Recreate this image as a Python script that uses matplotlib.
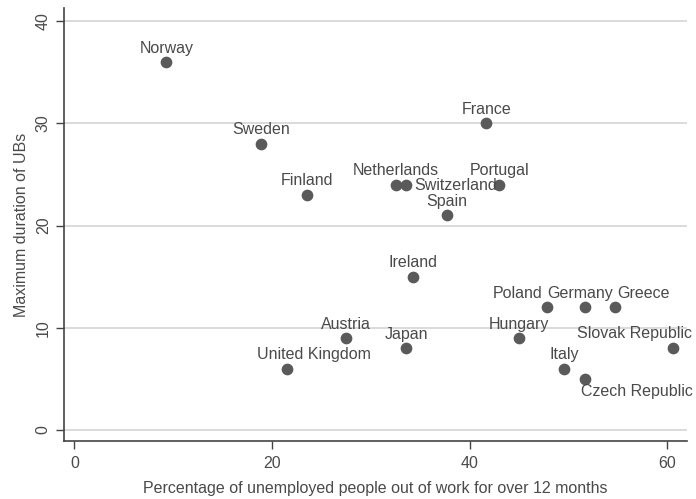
import matplotlib
matplotlib.use("Agg")
import matplotlib.pyplot as plt

countries = ["Norway", "Sweden", "Finland", "France", "Netherlands", "Switzerland",
             "Portugal", "Spain", "Ireland", "Poland", "Germany", "Greece",
             "Austria", "Japan", "Hungary", "United Kingdom", "Italy",
             "Slovak Republic", "Czech Republic"]
long_term_pct = [9.3, 18.9, 23.5, 41.7, 32.5, 33.6, 43.0, 37.7, 34.3, 47.8, 51.7, 54.7,
                 27.5, 33.6, 45.0, 21.5, 49.6, 60.6, 51.7]
max_duration = [36, 28, 23, 30, 24, 24, 24, 21, 15, 12, 12, 12, 9, 8, 9, 6, 6, 8, 5]

x_ticks = [0, 20, 40, 60]
y_ticks = [0, 10, 20, 30, 40]
x_title = "Percentage of unemployed people out of work for over 12 months"
y_title = "Maximum duration of UBs"

# label offsets in pixels (dx, dy) and horizontal alignment
label_style = {
    "Switzerland": (8, -1, "left"),
    "Poland": (-29, 14, "center"),
    "Germany": (-5, 14, "center"),
    "Greece": (29, 14, "center"),
    "United Kingdom": (27, 14, "center"),
    "Slovak Republic": (-39, 15, "center"),
    "Czech Republic": (52, -13, "center"),
}

plt.rcParams["font.family"] = ["Liberation Sans", "DejaVu Sans"]
text_c = "#4a4a4a"
fs = 11.5

fig = plt.figure(figsize=(6.96, 4.99), dpi=100)
ax = fig.add_axes([64 / 696, 1 - 441 / 499, (687 - 64) / 696, (441 - 8) / 499])
ax.set_xlim(-1.06, 62.0)
ax.set_ylim(-1.08, 41.3)

for yt in y_ticks:
    ax.axhline(yt, color="#d4d4d4", lw=1.2, zorder=0)

ax.scatter(long_term_pct, max_duration, s=55, color="#5a5a5a", edgecolors="#5a5a5a",
           zorder=3)
for c, x, y in zip(countries, long_term_pct, max_duration):
    dx, dy, ha = label_style.get(c, (0, 14, "center"))
    ax.annotate(c, (x, y), xytext=(dx, dy), textcoords="offset pixels",
                ha=ha, va="center", fontsize=fs, color=text_c, annotation_clip=False)

ax.set_xticks(x_ticks)
ax.set_yticks(y_ticks)
ax.tick_params(axis="both", direction="out", length=6, width=1, color="#444444",
               labelcolor=text_c, labelsize=fs)
ax.tick_params(axis="x", pad=5)
plt.setp(ax.get_yticklabels(), rotation=90, va="center")
for s in ["top", "right"]:
    ax.spines[s].set_visible(False)
for s in ["left", "bottom"]:
    ax.spines[s].set_color("#444444")
    ax.spines[s].set_linewidth(1.2)

ax.set_xlabel(x_title, fontsize=fs, color=text_c, labelpad=7)
ax.set_ylabel(y_title, fontsize=fs, color=text_c, labelpad=5)

fig.savefig("out.png", dpi=100)
